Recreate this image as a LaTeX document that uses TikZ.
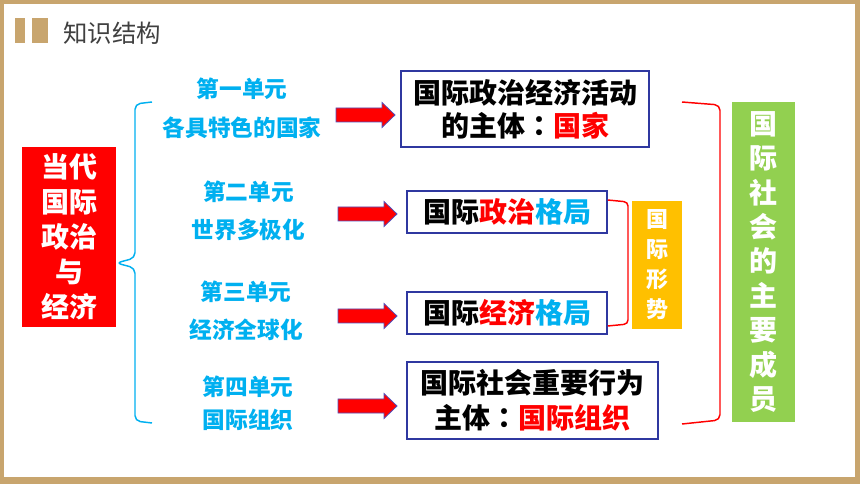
\documentclass[tikz,border=0pt]{standalone}
\usepackage{fontspec}
\newfontfamily\cjk{Noto Sans CJK SC}
\newfontfamily\cjktc{Noto Sans CJK TC}
\usetikzlibrary{calc,positioning}
\definecolor{frametan}{RGB}{200,165,110}
\definecolor{unitblue}{RGB}{0,176,240}
\definecolor{boxblue}{RGB}{47,56,160}
\definecolor{jiantoubian}{RGB}{80,80,190}
\definecolor{shiorange}{RGB}{255,192,0}
\definecolor{chengreen}{RGB}{146,208,80}
\def\redarrow(#1,#2){\draw[fill=red, draw=jiantoubian, line width=0.6pt] (#1,#2-7) -- ++(46,0) -- ++(0,-5.5) -- ++(13,12.5) -- ++(-13,12.5) -- ++(0,-5.5) -- ++(-46,0) -- cycle;}
\def\maohao{{\cjktc ：}}
\tikzset{
	unit/.style={font=\cjk\bfseries\fontsize{17}{29}\selectfont, text=unitblue, align=center, inner sep=0pt},
	zhuti/.style={draw=boxblue, line width=1.2pt, fill=white, font=\cjk\bfseries\fontsize{21}{25}\selectfont, align=center, inner sep=0pt},
	shubox/.style={font=\cjk\bfseries\selectfont, text=white, align=center, inner sep=0pt},
	kuohao/.style={line width=1.1pt, rounded corners=4pt}
}

\begin{document}
\begin{tikzpicture}[x=0.75pt, y=-0.75pt]
			%%%%% START %%%%%
			
			\useasboundingbox (0, 0) rectangle (860, 484);
			\fill[frametan] (0, 0) rectangle (860, 484);
			\fill[white] (4, 4) rectangle (855, 477);
			
			\fill[frametan] (15, 18) rectangle (25, 43);
			\fill[frametan] (32, 18) rectangle (48, 43);
			\node[font=\cjk\fontsize{18.3}{18}\selectfont, text=black!75, inner sep=0pt] (biaoti) at (112, 33) {知识结构};
			
			\node[fill=red, shubox, font=\cjk\bfseries\fontsize{21}{26.25}\selectfont, minimum width=70.5pt, minimum height=135pt] (dangdai) at (69, 237) {当代\\国际\\政治\\与\\经济};
			
			\node[unit] (u1) at (242, 108) {第一单元\\各具特色的国家};
			\node[unit, font=\cjk\bfseries\fontsize{17}{28.5}\selectfont] (u2) at (248.5, 211) {第二单元\\世界多极化};
			\node[unit, font=\cjk\bfseries\fontsize{17}{28.5}\selectfont] (u3) at (246, 311) {第三单元\\经济全球化};
			\node[unit, font=\cjk\bfseries\fontsize{17}{25}\selectfont] (u4) at (248, 403.5) {第四单元\\国际组织};
			
			\coordinate (bt) at (152, 102);
			\coordinate (bb) at (152, 423);
			\draw[kuohao, color=unitblue] (bt) -- (135, 104) -- (135, 258) -- (dangdai.east |- 0, 263) -- (135, 268) -- (135, 421) -- (bb);
			
			\redarrow(336, 115)
			\redarrow(338, 214)
			\redarrow(338, 316)
			\redarrow(338, 406)
			
			\node[zhuti, minimum width=186pt, minimum height=57pt, font=\cjk\bfseries\fontsize{21}{24.75}\selectfont] (guojia) at (525, 109) {国际政治经济活动\\的主体\maohao\textcolor{red}{国家}};
			\node[zhuti, minimum width=150pt, minimum height=31.5pt] (zhengzhi) at (507, 212) {国际\textcolor{red}{政治}\textcolor{unitblue}{格局}};
			\node[zhuti, minimum width=150pt, minimum height=31.5pt] (jingji) at (507, 313) {国际\textcolor{red}{经济}\textcolor{unitblue}{格局}};
			\node[zhuti, minimum width=188pt, minimum height=58pt, font=\cjk\bfseries\fontsize{21}{26.25}\selectfont] (zuzhi) at (532.5, 400.5) {国际社会重要行为\\主体\maohao\textcolor{red}{国际组织}};
			
			\node[fill=shiorange, shubox, font=\cjk\bfseries\fontsize{16.5}{22.5}\selectfont, minimum width=37.5pt, minimum height=96pt] (xingshi) at (657, 265) {国\\际\\形\\势};
			\draw[kuohao, color=red, rounded corners=3pt] (zhengzhi.east |- 0, 200) -- (628, 202) -- (628, 324) -- (jingji.east |- 0, 326);
			
			\node[fill=chengreen, shubox, font=\cjk\bfseries\fontsize{21}{25.8}\selectfont, minimum width=47pt, minimum height=240pt] (chengyuan) at (763.5, 262) {国\\际\\社\\会\\的\\主\\要\\成\\员};
			\draw[kuohao, color=red] (682, 102) -- (720, 105) -- (720, 420) -- (682, 424);
			
			%%%%% END %%%%%
		\end{tikzpicture}
\end{document}
